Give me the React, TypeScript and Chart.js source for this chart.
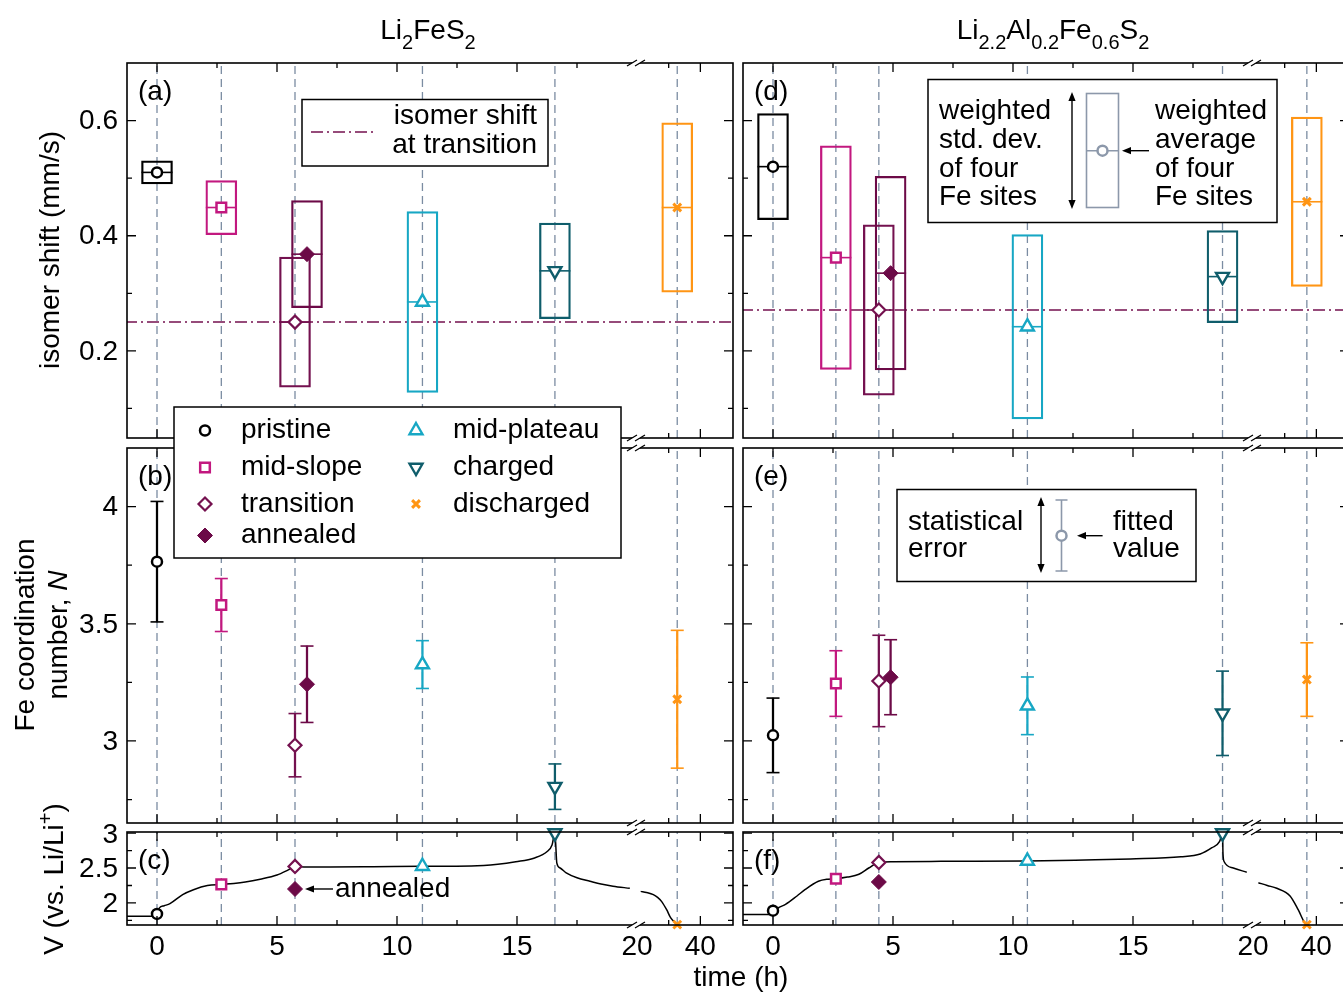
import React, { useEffect, useRef } from 'react';
import { Chart, registerables, LinearScale, PointElement } from 'chart.js';

Chart.register(...registerables);

// ---------------- data ----------------
const categories = ['pristine', 'mid-slope', 'transition', 'annealed', 'mid-plateau', 'charged', 'discharged'];
const seriesColors = ['#000000', '#c2187f', '#74114f', '#6c0a47', '#17a7c4', '#0f5d6b', '#ff9514'];
const markerStyles = ['circle', 'rect', 'rectRot', 'rectRot', 'triangle', 'triangle', 'crossRot'];
const markerRotation = [0, 0, 0, 0, 0, 180, 0];
const markerRadius = [5, 6.8, 6.5, 7.5, 7.5, 7.5, 5.5];
const markerBorder = [2.5, 2.5, 2.2, 1, 2.4, 2.4, 3];
const markerFilled = [false, false, false, true, false, false, true];

// time axis (h): broken at 20 h, compressed beyond
const BREAK_AT = 20;
const BREAK_K = 0.132;
const xMajorTicks = [0, 5, 10, 15, 40];
const xMinorTicks = [2.5, 7.5, 12.5, 17.5, 30];
const xTickLabelValues = [0, 5, 10, 15, 20, 40];
const xTickLabels = ['0', '5', '10', '15', '20', '40'];

const isoTicksMajor = [0.2, 0.4, 0.6];
const isoTicksMinor = [0.1, 0.3, 0.5];
const isoTickLabels = ['0.2', '0.4', '0.6'];
const coordTicksMajor = [3, 3.5, 4];
const coordTicksMinor = [2.75, 3.25, 3.75];
const coordTickLabels = ['3', '3.5', '4'];
const voltTicksMajor = [2, 2.5, 3];
const voltTicksMinor = [1.75, 2.25, 2.75];
const voltTickLabels = ['2', '2.5', '3'];

// Li2FeS2
const sampleTimesLeft = [0, 2.68, 5.75, 11.06, 16.58, 32.7];
const timeLeftShown = [0, 2.68, 5.75, 6.25, 11.06, 16.58, 32.7];
const timeLeft = [0, 2.68, 5.75, 5.75, 11.06, 16.58, 32.7];
const isomerLeft = [0.51, 0.449, 0.25, 0.368, 0.285, 0.339, 0.449];
const isomerSdLeft = [0.02, 0.047, 0.113, 0.093, 0.157, 0.083, 0.147];
const isomerTransitionLeft = 0.25;
const coordLeft = [3.765, 3.58, 2.982, 3.242, 3.326, 2.805, 3.178];
const coordErrLeft = [0.257, 0.113, 0.135, 0.163, 0.102, 0.097, 0.294];
const voltMarkLeft = [1.843, 2.266, 2.523, 2.2, 2.525, 3.0, 1.69];
const curveTimeLeft = [-1.25, -0.05, 0.1, 0.3, 0.54, 1.07, 1.52, 2.1, 2.68, 3.2, 3.68, 4.3, 5.0, 5.45, 5.75, 6.2, 7.2, 9.0, 11.06, 13.1, 14.2, 14.95, 15.7, 16.27, 16.46, 16.58, 16.66, 16.8, 17.05, 17.5, 18.04, 18.5, 19.0, 19.7, 20, 21.17, 23.0, 25.15, 26.5, 27.8, 29.4, 30.6, 32.6];
const curveVoltLeft = [1.81, 1.81, 1.93, 1.96, 1.99, 2.12, 2.19, 2.25, 2.266, 2.28, 2.3, 2.34, 2.4, 2.47, 2.523, 2.516, 2.514, 2.518, 2.525, 2.53, 2.555, 2.59, 2.64, 2.74, 2.83, 3.0, 2.57, 2.5, 2.43, 2.36, 2.31, 2.27, 2.24, 2.21, null, 2.166, 2.15, 2.12, 2.08, 2.02, 1.9, 1.79, 1.69];

// Li2.2Al0.2Fe0.6S2
const sampleTimesRight = [0, 2.62, 4.41, 10.6, 18.73, 37.0];
const timeRightShown = [0, 2.62, 4.41, 4.9, 10.6, 18.73, 37.0];
const timeRight = [0, 2.62, 4.41, 4.41, 10.6, 18.73, 37.0];
const isomerRight = [0.52, 0.362, 0.271, 0.335, 0.242, 0.329, 0.459];
const isomerSdRight = [0.092, 0.194, 0.148, 0.168, 0.16, 0.08, 0.147];
const isomerTransitionRight = 0.271;
const coordRight = [3.024, 3.245, 3.256, 3.272, 3.15, 3.118, 3.262];
const coordErrRight = [0.159, 0.14, 0.195, 0.16, 0.123, 0.18, 0.157];
const voltMarkRight = [1.89, 2.347, 2.58, 2.3, 2.6, 3.0, 1.69];
const curveTimeRight = [-1.25, -0.05, 0.1, 0.27, 0.52, 1.0, 1.33, 1.89, 2.29, 2.62, 3.1, 3.58, 3.99, 4.41, 5.0, 7.0, 10.6, 13.0, 14.9, 17.0, 17.8, 18.29, 18.61, 18.73, 18.75, 18.8, 19.18, 19.74, 20, 21.7, 24.5, 27.5, 31.7, 34.3, 36.4, 37.0];
const curveVoltRight = [1.834, 1.834, 1.9, 1.94, 1.98, 2.1, 2.19, 2.31, 2.34, 2.347, 2.37, 2.41, 2.5, 2.58, 2.59, 2.595, 2.6, 2.615, 2.63, 2.66, 2.7, 2.79, 2.88, 3.0, 2.7, 2.59, 2.5, 2.44, null, 2.29, 2.25, 2.21, 2.1, 1.9, 1.71, 1.69];

// ---------------- styling ----------------
const FONT_FAMILY = '"Liberation Sans", Arial, Helvetica, sans-serif';
const FONT = '28px ' + FONT_FAMILY;
const DASH_COLOR = '#7b8ca2';
const KEY_GRAY = '#8c98aa';
const ISO_COLOR = '#74114f';

const toU = (v: number) => (v <= BREAK_AT ? v : BREAK_AT + (v - BREAK_AT) * BREAK_K);
const fromU = (u: number) => (u <= BREAK_AT ? u : BREAK_AT + (u - BREAK_AT) / BREAK_K);
const X_MIN = -1.25;
const X_MAX = fromU(24);

class BrokenScale extends LinearScale {
  static id = 'broken';
  static defaults = LinearScale.defaults;
  configure() {
    super.configure();
    const self: any = this;
    self._startValue = toU(self.min);
    self._endValue = toU(self.max);
    self._valueRange = self._endValue - self._startValue;
  }
  getPixelForValue(value: any) {
    if (value === null || value === undefined || Number.isNaN(value)) return NaN;
    return super.getPixelForValue(toU(value));
  }
  getValueForPixel(pixel: number) {
    return fromU(super.getValueForPixel(pixel));
  }
}
Chart.register(BrokenScale as any);

// ---------------- helpers ----------------
function markerOptions(i: number) {
  return {
    pointStyle: markerStyles[i],
    rotation: markerRotation[i],
    radius: markerRadius[i],
    borderWidth: markerBorder[i],
    borderColor: seriesColors[i],
    backgroundColor: markerFilled[i] ? seriesColors[i] : '#ffffff',
  };
}

function drawMarker(ctx: CanvasRenderingContext2D, x: number, y: number, opts: any) {
  const p: any = new PointElement({} as any);
  p.x = x;
  p.y = y;
  p.options = opts;
  p.draw(ctx);
}

function arrow(ctx: CanvasRenderingContext2D, x1: number, y1: number, x2: number, y2: number) {
  const a = Math.atan2(y2 - y1, x2 - x1);
  const head = 9;
  const hw = 3.6;
  ctx.beginPath();
  ctx.moveTo(x1, y1);
  ctx.lineTo(x2 - Math.cos(a) * head * 0.7, y2 - Math.sin(a) * head * 0.7);
  ctx.stroke();
  ctx.beginPath();
  ctx.moveTo(x2, y2);
  ctx.lineTo(x2 - Math.cos(a) * head + Math.sin(a) * hw, y2 - Math.sin(a) * head - Math.cos(a) * hw);
  ctx.lineTo(x2 - Math.cos(a) * head - Math.sin(a) * hw, y2 - Math.sin(a) * head + Math.cos(a) * hw);
  ctx.closePath();
  ctx.fill();
}

function drawBreakMark(ctx: CanvasRenderingContext2D, x: number, y: number) {
  ctx.save();
  ctx.fillStyle = '#ffffff';
  ctx.beginPath();
  ctx.moveTo(x - 10, y + 3);
  ctx.lineTo(x, y - 3);
  ctx.lineTo(x + 8, y - 3);
  ctx.lineTo(x - 2, y + 3);
  ctx.closePath();
  ctx.fill();
  ctx.strokeStyle = '#000';
  ctx.lineWidth = 1.3;
  ctx.beginPath();
  ctx.moveTo(x - 10, y + 3);
  ctx.lineTo(x, y - 3);
  ctx.moveTo(x - 2, y + 3);
  ctx.lineTo(x + 8, y - 3);
  ctx.stroke();
  ctx.restore();
}

function dashedLines(times: number[], yMin: number, yMax: number) {
  const d: any[] = [];
  times.forEach((t) => {
    d.push({ x: t, y: yMin }, { x: t, y: yMax }, { x: t, y: null });
  });
  return {
    type: 'line', data: d, borderColor: DASH_COLOR, borderWidth: 1.3, borderDash: [8, 5],
    pointRadius: 0, spanGaps: false, fill: false, showLine: true,
  };
}

function markerDataset(times: number[], vals: number[], clip = true) {
  const ds: any = {
    type: 'scatter',
    data: times.map((t, i) => ({ x: t, y: vals[i] })),
    pointStyle: markerStyles,
    pointRotation: markerRotation,
    pointRadius: markerRadius,
    pointBorderWidth: markerBorder,
    pointBorderColor: seriesColors,
    pointBackgroundColor: seriesColors.map((c, i) => (markerFilled[i] ? c : '#ffffff')),
    pointHoverRadius: markerRadius,
  };
  if (!clip) ds.clip = false;
  return ds;
}

function boxDatasets(times: number[], center: number[], sd: number[]) {
  return [
    {
      type: 'scatter',
      data: times.map((t, i) => ({ x: t, y: center[i] })),
      pointStyle: 'line', pointRadius: 15.5, pointHoverRadius: 15.5, pointBorderWidth: 1.6,
      pointBorderColor: seriesColors,
    },
    {
      type: 'bar',
      data: times.map((t, i) => ({ x: t, y: [center[i] - sd[i], center[i] + sd[i]] })),
      borderColor: seriesColors, backgroundColor: 'rgba(0,0,0,0)', borderWidth: 1.6,
      borderSkipped: false, barThickness: 31, grouped: false,
    },
  ];
}

function errorDatasets(times: number[], center: number[], err: number[]) {
  const capData: any[] = [];
  const capColors: string[] = [];
  times.forEach((t, i) => {
    capData.push({ x: t, y: center[i] - err[i] }, { x: t, y: center[i] + err[i] });
    capColors.push(seriesColors[i], seriesColors[i]);
  });
  return [
    {
      type: 'scatter', data: capData, pointStyle: 'line', pointRadius: 6.5, pointHoverRadius: 6.5,
      pointBorderWidth: 1.6, pointBorderColor: capColors,
    },
    {
      type: 'bar',
      data: times.map((t, i) => ({ x: t, y: [center[i] - err[i], center[i] + err[i]] })),
      backgroundColor: seriesColors, borderWidth: 0, barThickness: 1.6, grouped: false,
    },
  ];
}

function hLine(v: number) {
  return {
    type: 'line', data: [{ x: -5, y: v }, { x: 80, y: v }], borderColor: ISO_COLOR, borderWidth: 1.5,
    borderDash: [12, 4, 2, 4], pointRadius: 0, showLine: true, fill: false,
  };
}

function curve(times: number[], volts: (number | null)[]) {
  return {
    type: 'line', data: times.map((t, i) => ({ x: t, y: volts[i] })), borderColor: '#000', borderWidth: 1.5,
    pointRadius: 0, cubicInterpolationMode: 'monotone', spanGaps: false, showLine: true, fill: false,
  };
}

// ---------------- layout ----------------
type Spec = {
  key: string; left: number; top: number; width: number; height: number;
  pad: { left: number; top: number; right: number; bottom: number };
  yMin: number; yMax: number; yMajor: number[]; yMinor: number[]; yLabels: string[] | null;
  xLabels: boolean; letter: string; datasets: any[]; z: number;
  extra?: (ctx: CanvasRenderingContext2D, chart: any, spec: Spec) => void;
};

const COLS = {
  left: { left: 0, width: 738, padL: 127, padR: 5 },
  right: { left: 738, width: 622, padL: 5, padR: 11 },
};
const ROWS = {
  top: { top: 0, height: 443, padT: 63, padB: 5 },
  mid: { top: 395, height: 433, padT: 53, padB: 5 },
  bot: { top: 812, height: 182, padT: 20, padB: 69 },
};
const ISO_RANGE = [0.0487, 0.7];
const COORD_RANGE = [2.65, 4.25];
const VOLT_RANGE = [1.685, 3.015];

function place(col: any, row: any) {
  return {
    left: col.left, width: col.width, top: row.top, height: row.height,
    pad: { left: col.padL, right: col.padR, top: row.padT, bottom: row.padB },
  };
}

function textLines(ctx: CanvasRenderingContext2D, lines: string[], x: number, ys: number[], align: CanvasTextAlign) {
  ctx.textAlign = align;
  ctx.textBaseline = 'middle';
  lines.forEach((l, i) => ctx.fillText(l, x, ys[i]));
}

const legendCol = [0, 0, 0, 0, 1, 1, 1];
const legendRow = [0, 1, 2, 3, 0, 1, 2];

function drawMainLegend(ctx: CanvasRenderingContext2D) {
  ctx.fillStyle = '#fff';
  ctx.fillRect(174, 407, 447, 151);
  ctx.strokeStyle = '#000';
  ctx.lineWidth = 1.5;
  ctx.strokeRect(174, 407, 447, 151);
  const rowY = [430.5, 467.5, 504, 535.5];
  const markX = [205, 416];
  const textX = [241, 453];
  ctx.font = FONT;
  categories.forEach((c, i) => {
    const y = rowY[legendRow[i]];
    drawMarker(ctx, markX[legendCol[i]], y, markerOptions(i));
    ctx.fillStyle = '#000';
    ctx.textAlign = 'left';
    ctx.textBaseline = 'middle';
    ctx.fillText(c, textX[legendCol[i]], y);
  });
}

function drawIsoLegend(ctx: CanvasRenderingContext2D) {
  ctx.fillStyle = '#fff';
  ctx.fillRect(302, 99.5, 246, 66.5);
  ctx.strokeStyle = '#000';
  ctx.lineWidth = 1.5;
  ctx.strokeRect(302, 99.5, 246, 66.5);
  ctx.save();
  ctx.strokeStyle = ISO_COLOR;
  ctx.setLineDash([12, 4, 2, 4]);
  ctx.beginPath();
  ctx.moveTo(311, 132);
  ctx.lineTo(373, 132);
  ctx.stroke();
  ctx.restore();
  ctx.fillStyle = '#000';
  ctx.font = FONT;
  textLines(ctx, ['isomer shift', 'at transition'], 537, [116, 145], 'right');
}

function drawSpreadLegend(ctx: CanvasRenderingContext2D) {
  ctx.fillStyle = '#fff';
  ctx.fillRect(928, 79.5, 349, 143);
  ctx.strokeStyle = '#000';
  ctx.lineWidth = 1.5;
  ctx.strokeRect(928, 79.5, 349, 143);
  ctx.fillStyle = '#000';
  ctx.font = FONT;
  const ys = [111, 140, 169, 197.5];
  textLines(ctx, ['weighted', 'std. dev.', 'of four', 'Fe sites'], 939, ys, 'left');
  textLines(ctx, ['weighted', 'average', 'of four', 'Fe sites'], 1155, ys, 'left');
  ctx.strokeStyle = '#000';
  ctx.lineWidth = 1.4;
  arrow(ctx, 1072, 150, 1072, 92);
  arrow(ctx, 1072, 150, 1072, 209);
  ctx.strokeStyle = KEY_GRAY;
  ctx.lineWidth = 1.6;
  ctx.strokeRect(1086.5, 93.5, 32, 114);
  ctx.beginPath();
  ctx.moveTo(1086.5, 150.7);
  ctx.lineTo(1118.5, 150.7);
  ctx.stroke();
  drawMarker(ctx, 1102.5, 150.7, { pointStyle: 'circle', rotation: 0, radius: 5, borderWidth: 2.5, borderColor: KEY_GRAY, backgroundColor: '#fff' });
  ctx.strokeStyle = '#000';
  ctx.fillStyle = '#000';
  ctx.lineWidth = 1.4;
  arrow(ctx, 1149, 150.7, 1122, 150.7);
}

function drawErrorLegend(ctx: CanvasRenderingContext2D) {
  ctx.fillStyle = '#fff';
  ctx.fillRect(897, 489.5, 299, 92);
  ctx.strokeStyle = '#000';
  ctx.lineWidth = 1.5;
  ctx.strokeRect(897, 489.5, 299, 92);
  ctx.fillStyle = '#000';
  ctx.font = FONT;
  textLines(ctx, ['statistical', 'error'], 908, [522, 549], 'left');
  textLines(ctx, ['fitted', 'value'], 1113, [522, 549], 'left');
  ctx.lineWidth = 1.4;
  arrow(ctx, 1041, 535, 1041, 497);
  arrow(ctx, 1041, 535, 1041, 573);
  ctx.strokeStyle = KEY_GRAY;
  ctx.lineWidth = 1.6;
  ctx.beginPath();
  ctx.moveTo(1061.5, 500); ctx.lineTo(1061.5, 571);
  ctx.moveTo(1055.5, 500); ctx.lineTo(1067.5, 500);
  ctx.moveTo(1055.5, 571); ctx.lineTo(1067.5, 571);
  ctx.stroke();
  drawMarker(ctx, 1061.5, 535.7, { pointStyle: 'circle', rotation: 0, radius: 5, borderWidth: 2.5, borderColor: KEY_GRAY, backgroundColor: '#fff' });
  ctx.strokeStyle = '#000';
  ctx.fillStyle = '#000';
  ctx.lineWidth = 1.4;
  arrow(ctx, 1102.6, 535.7, 1077, 535.7);
}

function drawAnnealedNote(ctx: CanvasRenderingContext2D, chart: any, spec: Spec) {
  const mx = chart.scales.x.getPixelForValue(timeLeft[3]) + spec.left;
  const my = chart.scales.y.getPixelForValue(voltMarkLeft[3]) + spec.top;
  ctx.strokeStyle = '#000';
  ctx.fillStyle = '#000';
  ctx.lineWidth = 1.4;
  arrow(ctx, mx + 38, my, mx + 10, my);
  ctx.font = FONT;
  ctx.textAlign = 'left';
  ctx.textBaseline = 'middle';
  ctx.fillText('annealed', mx + 40, my);
}

const specs: Spec[] = [
  {
    key: 'a', ...place(COLS.left, ROWS.top), z: 1,
    yMin: ISO_RANGE[0], yMax: ISO_RANGE[1], yMajor: isoTicksMajor, yMinor: isoTicksMinor, yLabels: isoTickLabels,
    xLabels: false, letter: '(a)',
    datasets: [
      markerDataset(timeLeftShown, isomerLeft),
      ...boxDatasets(timeLeftShown, isomerLeft, isomerSdLeft),
      hLine(isomerTransitionLeft),
      dashedLines(sampleTimesLeft, ISO_RANGE[0], ISO_RANGE[1]),
    ],
    extra: (ctx) => drawIsoLegend(ctx),
  },
  {
    key: 'b', ...place(COLS.left, ROWS.mid), z: 2,
    yMin: COORD_RANGE[0], yMax: COORD_RANGE[1], yMajor: coordTicksMajor, yMinor: coordTicksMinor, yLabels: coordTickLabels,
    xLabels: false, letter: '(b)',
    datasets: [
      markerDataset(timeLeftShown, coordLeft),
      ...errorDatasets(timeLeftShown, coordLeft, coordErrLeft),
      dashedLines(sampleTimesLeft, COORD_RANGE[0], COORD_RANGE[1]),
    ],
    extra: (ctx) => drawMainLegend(ctx),
  },
  {
    key: 'c', ...place(COLS.left, ROWS.bot), z: 3,
    yMin: VOLT_RANGE[0], yMax: VOLT_RANGE[1], yMajor: voltTicksMajor, yMinor: voltTicksMinor, yLabels: voltTickLabels,
    xLabels: true, letter: '(c)',
    datasets: [
      markerDataset(timeLeft, voltMarkLeft, false),
      curve(curveTimeLeft, curveVoltLeft),
      dashedLines(sampleTimesLeft, VOLT_RANGE[0], VOLT_RANGE[1]),
    ],
    extra: drawAnnealedNote,
  },
  {
    key: 'd', ...place(COLS.right, ROWS.top), z: 1,
    yMin: ISO_RANGE[0], yMax: ISO_RANGE[1], yMajor: isoTicksMajor, yMinor: isoTicksMinor, yLabels: null,
    xLabels: false, letter: '(d)',
    datasets: [
      markerDataset(timeRightShown, isomerRight),
      ...boxDatasets(timeRightShown, isomerRight, isomerSdRight),
      hLine(isomerTransitionRight),
      dashedLines(sampleTimesRight, ISO_RANGE[0], ISO_RANGE[1]),
    ],
    extra: (ctx) => drawSpreadLegend(ctx),
  },
  {
    key: 'e', ...place(COLS.right, ROWS.mid), z: 2,
    yMin: COORD_RANGE[0], yMax: COORD_RANGE[1], yMajor: coordTicksMajor, yMinor: coordTicksMinor, yLabels: null,
    xLabels: false, letter: '(e)',
    datasets: [
      markerDataset(timeRightShown, coordRight),
      ...errorDatasets(timeRightShown, coordRight, coordErrRight),
      dashedLines(sampleTimesRight, COORD_RANGE[0], COORD_RANGE[1]),
    ],
    extra: (ctx) => drawErrorLegend(ctx),
  },
  {
    key: 'f', ...place(COLS.right, ROWS.bot), z: 3,
    yMin: VOLT_RANGE[0], yMax: VOLT_RANGE[1], yMajor: voltTicksMajor, yMinor: voltTicksMinor, yLabels: null,
    xLabels: true, letter: '(f)',
    datasets: [
      markerDataset(timeRight, voltMarkRight, false),
      curve(curveTimeRight, curveVoltRight),
      dashedLines(sampleTimesRight, VOLT_RANGE[0], VOLT_RANGE[1]),
    ],
  },
];

function framePlugin(spec: Spec) {
  return {
    id: 'frame_' + spec.key,
    afterDatasetsDraw(chart: any) {
      const ctx: CanvasRenderingContext2D = chart.ctx;
      const { left, right, top, bottom } = chart.chartArea;
      const xs = chart.scales.x;
      const ys = chart.scales.y;
      ctx.save();
      ctx.strokeStyle = '#000';
      ctx.lineWidth = 1.6;
      ctx.strokeRect(left, top, right - left, bottom - top);
      ctx.lineWidth = 1.3;
      ctx.beginPath();
      const xt = (vals: number[], len: number) => vals.forEach((v) => {
        const p = xs.getPixelForValue(v);
        ctx.moveTo(p, bottom); ctx.lineTo(p, bottom - len);
        ctx.moveTo(p, top); ctx.lineTo(p, top + len);
      });
      const yt = (vals: number[], len: number) => vals.forEach((v) => {
        const p = ys.getPixelForValue(v);
        ctx.moveTo(left, p); ctx.lineTo(left + len, p);
        ctx.moveTo(right, p); ctx.lineTo(right - len, p);
      });
      xt(xMajorTicks, 9);
      xt(xMinorTicks, 5);
      yt(spec.yMajor, 9);
      yt(spec.yMinor, 5);
      ctx.stroke();
      const bp = xs.getPixelForValue(BREAK_AT);
      drawBreakMark(ctx, bp, top);
      drawBreakMark(ctx, bp, bottom);
      ctx.fillStyle = '#000';
      ctx.font = FONT;
      if (spec.yLabels) {
        ctx.textAlign = 'right';
        ctx.textBaseline = 'middle';
        spec.yMajor.forEach((v, i) => {
          const p = ys.getPixelForValue(v);
          const y = Math.max(p + 1, top + 3);
          ctx.fillText(spec.yLabels![i], left - 9, y);
        });
      }
      if (spec.xLabels) {
        ctx.textAlign = 'center';
        ctx.textBaseline = 'middle';
        xTickLabelValues.forEach((v, i) => ctx.fillText(xTickLabels[i], xs.getPixelForValue(v), bottom + 22));
      }
      ctx.textAlign = 'left';
      ctx.textBaseline = 'middle';
      ctx.fillText(spec.letter, left + 11, top + 29);
      ctx.restore();
      if (spec.extra) {
        ctx.save();
        ctx.translate(-spec.left, -spec.top);
        spec.extra(ctx, chart, spec);
        ctx.restore();
      }
    },
  };
}

function Panel({ spec }: { spec: Spec }) {
  const ref = useRef<HTMLCanvasElement | null>(null);
  useEffect(() => {
    if (!ref.current) return;
    const chart = new Chart(ref.current, {
      type: 'scatter',
      data: { datasets: spec.datasets as any },
      options: {
        animation: false,
        responsive: false,
        maintainAspectRatio: false,
        devicePixelRatio: 1,
        events: [],
        layout: { padding: spec.pad, autoPadding: false },
        plugins: { legend: { display: false }, tooltip: { enabled: false }, title: { display: false } },
        scales: {
          x: { type: 'broken' as any, min: X_MIN, max: X_MAX, bounds: 'data', offset: false, display: false, grid: { display: false } },
          y: { type: 'linear', min: spec.yMin, max: spec.yMax, bounds: 'data', beginAtZero: false, display: false, grid: { display: false } },
        },
      } as any,
      plugins: [framePlugin(spec)],
    });
    return () => chart.destroy();
  }, [spec]);
  return (
    <canvas
      ref={ref}
      width={spec.width}
      height={spec.height}
      style={{ position: 'absolute', left: spec.left, top: spec.top, width: spec.width, height: spec.height, zIndex: spec.z }}
    />
  );
}

const subStyle: React.CSSProperties = { fontSize: 20, position: 'relative', top: 10, lineHeight: 0 };
const supStyle: React.CSSProperties = { fontSize: 20, position: 'relative', top: -11, lineHeight: 0 };
const textBase: React.CSSProperties = { position: 'absolute', fontSize: 28, lineHeight: '28px', whiteSpace: 'nowrap', zIndex: 5 };
const rotated = (cx: number, cy: number): React.CSSProperties => ({
  ...textBase, left: cx, top: cy, transform: 'translate(-50%, -50%) rotate(-90deg)',
});

export default function App() {
  return (
    <div style={{ position: 'absolute', left: 0, top: 0, width: 1343, height: 994, overflow: 'hidden', background: '#fff', fontFamily: FONT_FAMILY, color: '#000' }}>
      {specs.map((s) => <Panel key={s.key} spec={s} />)}
      <div style={{ ...textBase, left: 428, top: 16, transform: 'translateX(-50%)' }}>
        Li<span style={subStyle}>2</span>FeS<span style={subStyle}>2</span>
      </div>
      <div style={{ ...textBase, left: 1053, top: 16, transform: 'translateX(-50%)' }}>
        Li<span style={subStyle}>2.2</span>Al<span style={subStyle}>0.2</span>Fe<span style={subStyle}>0.6</span>S<span style={subStyle}>2</span>
      </div>
      <div style={rotated(50, 250)}>isomer shift (mm/s)</div>
      <div style={rotated(25, 635)}>Fe coordination</div>
      <div style={rotated(58, 635)}>number, <i>N</i></div>
      <div style={rotated(54, 879)}>
        V (vs. Li/Li<span style={supStyle}>+</span>)
      </div>
      <div style={{ ...textBase, left: 741, top: 963, transform: 'translateX(-50%)' }}>time (h)</div>
    </div>
  );
}
